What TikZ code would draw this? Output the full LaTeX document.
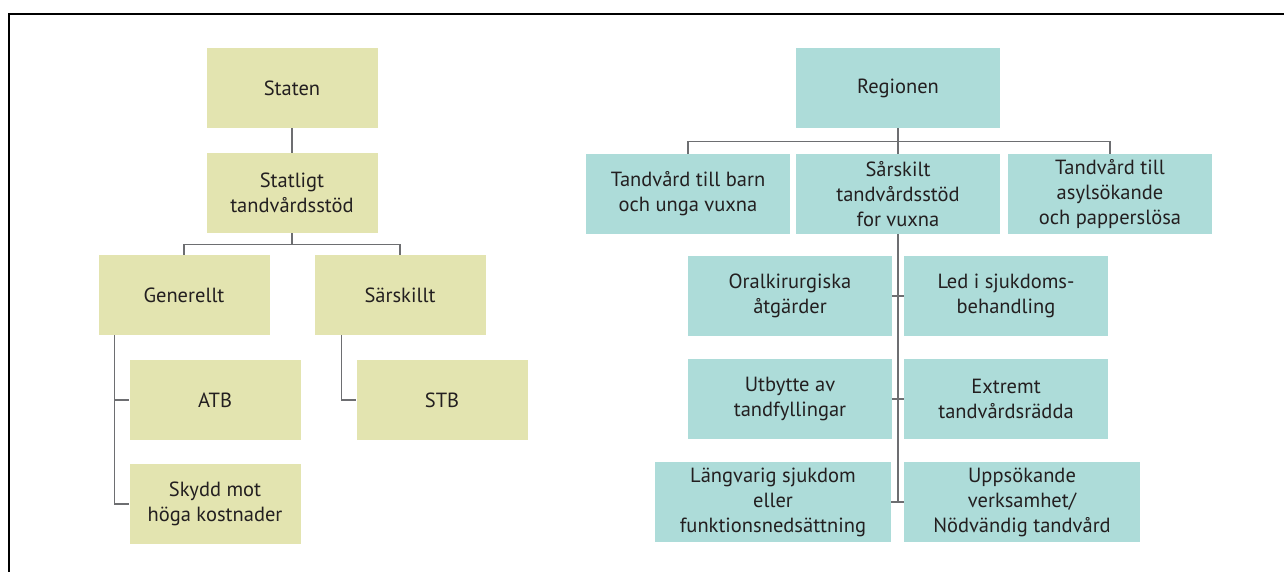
\documentclass[tikz,border=0pt]{standalone}
\usepackage{fontspec}
\setmainfont{PT Sans}
\usepackage{tikz}
\usetikzlibrary{positioning}
\definecolor{boxState}{HTML}{E3E4B0}
\definecolor{boxRegion}{HTML}{ADDCD9}
\definecolor{lineGray}{HTML}{6D6E71}
\definecolor{textDark}{HTML}{231F20}

\begin{document}
\begin{tikzpicture}[
        x=1pt, y=-1pt,
        statecell/.style={
            draw=none,
            fill=boxState,
            minimum width=171pt,
            minimum height=80pt,
            inner sep=0pt,
            align=center,
            text=textDark,
            font=\fontsize{20.5}{25}\selectfont
        },
        regioncell/.style={
            statecell,
            fill=boxRegion,
            minimum width=204pt
        },
        widecell/.style={
            regioncell,
            minimum width=236pt
        },
        conn/.style={
            draw=lineGray,
            line width=1.3pt
        }
    ]

    \useasboundingbox (0,0) rectangle (1284,572);
    \draw[line width=2pt] (9,572) -- (9,14) -- (1284,14);

    % staten
    \node[statecell] (staten)   at (292, 88)  {Staten};
    \node[statecell] (statligt) at (292, 193) {Statligt\\tandvårdsstöd};
    \node[statecell] (gen)      at (184, 295) {Generellt};
    \node[statecell] (sarsk)    at (400, 295) {Särskillt};
    \node[statecell] (atb)      at (215, 400) {ATB};
    \node[statecell] (skydd)    at (215, 504) {Skydd mot\\höga kostnader};
    \node[statecell] (stb)      at (442, 400) {STB};

    \draw[conn] (staten) -- (statligt);
    \draw[conn] (statligt.south) -- ++(0,11) -| (gen.north);
    \draw[conn] (statligt.south) ++(0,11) -| (sarsk.north);
    \draw[conn] ([xshift=16pt]gen.south west) |- (atb.west);
    \draw[conn] ([xshift=16pt]gen.south west) |- (skydd.west);
    \draw[conn] ([xshift=27pt]sarsk.south west) |- (stb.west);

    % regionen
    \node[regioncell] (regionen) at (898, 88)   {Regionen};
    \node[regioncell] (barn)     at (688, 194)  {Tandvård till barn\\och unga vuxna};
    \node[regioncell] (sarskilt) at (898, 194)  {Sårskilt\\tandvårdsstöd\\for vuxna};
    \node[regioncell] (asyl)     at (1110, 194) {Tandvård till\\asylsökande\\och papperslösa};
    \node[regioncell] (oral)     at (790, 296)  {Oralkirurgiska\\åtgärder};
    \node[regioncell] (led)      at (1006, 296) {Led i sjukdoms-\\behandling};
    \node[regioncell] (utbyte)   at (790, 399)  {Utbytte av\\tandfyllingar};
    \node[regioncell] (extremt)  at (1006, 399) {Extremt\\tandvårdsrädda};
    \node[widecell]   (lang)     at (773, 502)  {Längvarig sjukdom\\eller\\funktionsnedsättning};
    \node[widecell]   (upps)     at (1022, 502) {Uppsökande\\verksamhet/\\Nödvändig tandvård};

    \draw[conn] (regionen) -- (sarskilt);
    \draw[conn] (regionen.south) ++(0,13) -| (barn.north);
    \draw[conn] (regionen.south) ++(0,13) -| (asyl.north);
    \draw[conn] (sarskilt.south) -- (sarskilt.south |- lang.east);
    \foreach \a/\b in {oral/led, utbyte/extremt, lang/upps}{
        \draw[conn] (\a.east) -- (\b.west);
    }

\end{tikzpicture}
\end{document}
